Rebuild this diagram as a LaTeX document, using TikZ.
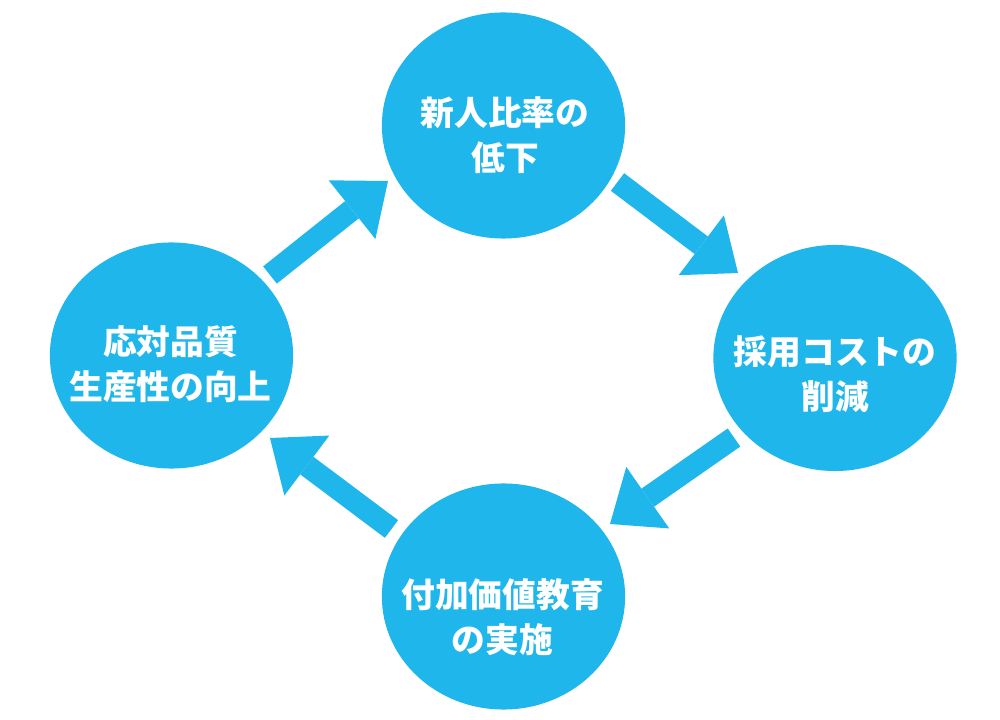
\documentclass[tikz,border=0pt]{standalone}
\usepackage{fontspec}
\newfontfamily\jpfont{Noto Sans CJK JP}
\usetikzlibrary{shapes.geometric,arrows.meta}
\definecolor{cycleblue}{HTML}{1FB6EC}

\begin{document}
\begin{tikzpicture}[x=0.025cm, y=-0.025cm,
	bubble/.style={ellipse, fill=cycleblue, minimum width=6.08cm, minimum height=5.65cm, inner sep=0pt},
	lbl/.style={text=white, align=center, font=\jpfont\bfseries\fontsize{24}{32}\selectfont},
	bigarrow/.style={cycleblue, line width=0.55cm, -{Triangle[width=1.875cm, length=1.15cm, line width=0pt]}}]
	\useasboundingbox (0,0) rectangle (1000,720);
	% circles
	\node[bubble] (top) at (503.5,125.5) {};
	\node[bubble] (right) at (835,358) {};
	\node[bubble] (bottom) at (503.5,596.5) {};
	\node[bubble] (left) at (171.5,355.5) {};
	% texts
	\node[lbl] (toptext) at (505,135) {新人比率の\\低下};
	\node[lbl] (righttext) at (835,374) {採用コストの\\削減};
	\node[lbl] (bottomtext) at (502.5,617.5) {付加価値教育\\の実施};
	\node[lbl] (lefttext) at (170.5,364.5) {応対品質\\生産性の向上};
	% arrows
	\foreach \sx/\sy/\ex/\ey [count=\i] in {270/275/388/181, 617.5/182/738/273, 734/437.5/610/524, 391.5/529/270/438}{
		\coordinate (s\i) at (\sx,\sy);
		\coordinate (e\i) at (\ex,\ey);
		\draw[bigarrow] (s\i) -- (e\i);
	}
\end{tikzpicture}
\end{document}
